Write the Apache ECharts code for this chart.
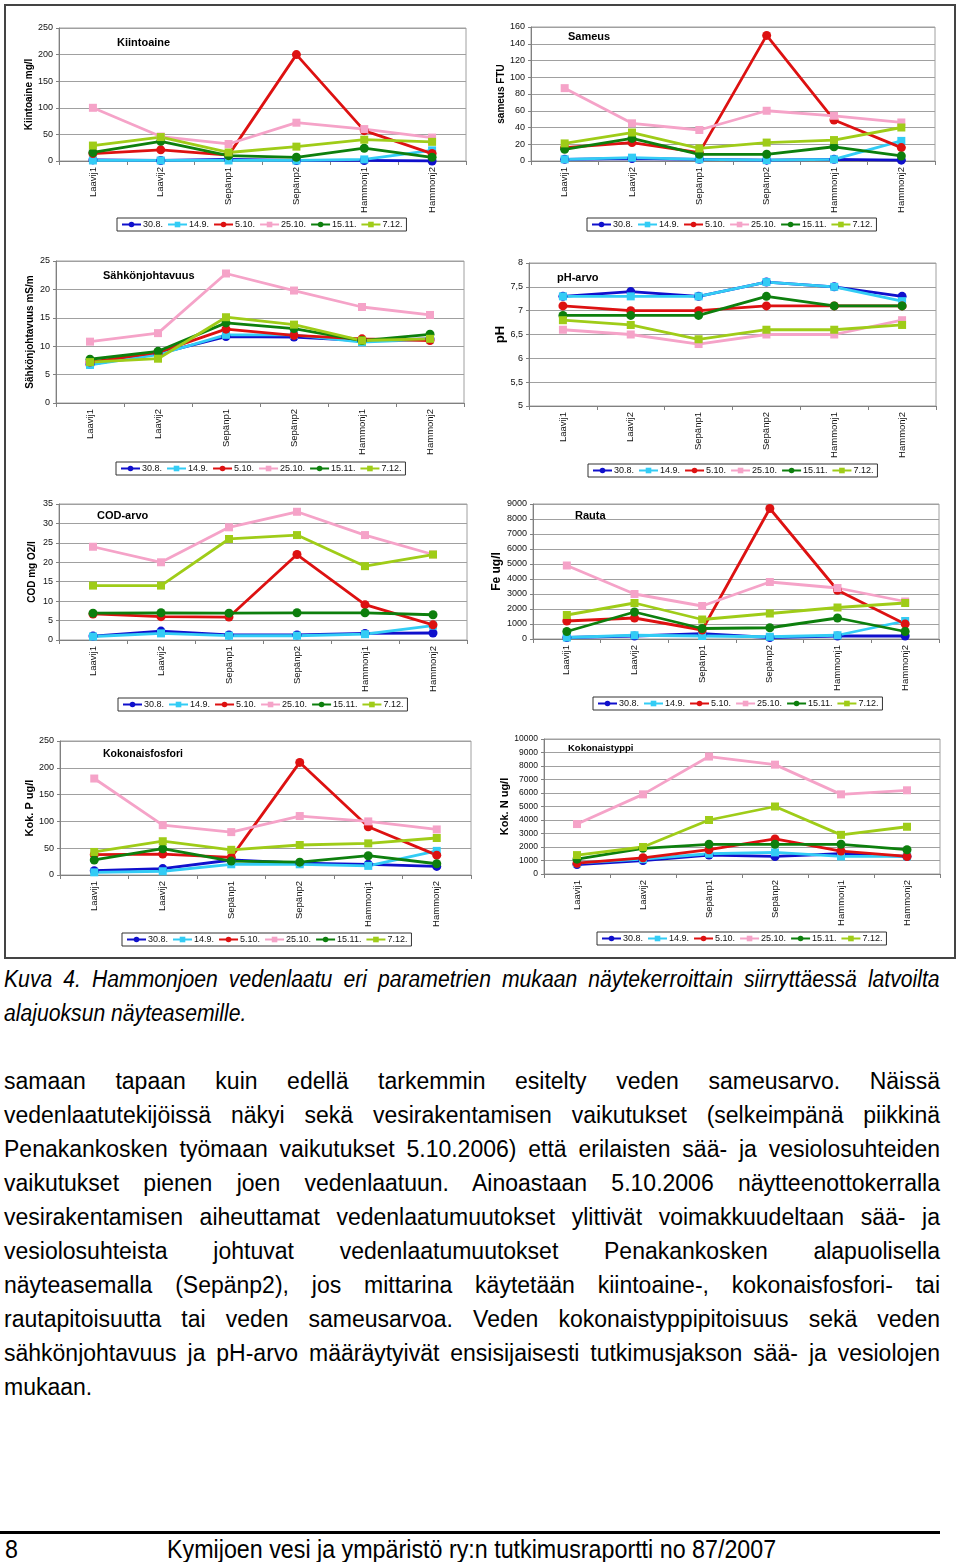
<!DOCTYPE html>
<html>
<head>
<meta charset="utf-8">
<script src="https://cdn.jsdelivr.net/npm/echarts@6/dist/echarts.min.js"></script>
<style>
  html, body { margin:0; padding:0; background:#fff; }
  body { width:960px; height:1562px; position:relative; overflow:hidden; font-family:"Liberation Sans", Arial, sans-serif; color:#000; }
  #frame { position:absolute; left:4px; top:4px; width:948px; height:951px; border:2px solid #444; }
  #fig { position:absolute; left:0; top:0; width:960px; height:962px; }
  .ln { position:absolute; left:4px; width:936px; height:34px; line-height:34px; font-size:23px; text-align:justify; text-align-last:justify; }
  .last { text-align-last:left; }
  .cap { font-style:italic; width:1017px; transform:scaleX(0.92); transform-origin:0 0; }
  #rule { position:absolute; left:0; top:1531px; width:940px; height:3px; background:#000; }
  .foot { position:absolute; top:1532px; height:34px; line-height:34px; font-size:26px; transform:scaleX(0.895); transform-origin:0 0; white-space:nowrap; }
</style>
</head>
<body>
<div id="frame"></div>
<div id="fig"></div>

<div class="ln cap" style="top:962px">Kuva 4. Hammonjoen vedenlaatu eri parametrien mukaan näytekerroittain siirryttäessä latvoilta</div>
<div class="ln cap last" style="top:996px">alajuoksun näyteasemille.</div>

<div class="ln" style="top:1064px">samaan tapaan kuin edellä tarkemmin esitelty veden sameusarvo. Näissä</div>
<div class="ln" style="top:1098px">vedenlaatutekijöissä näkyi sekä vesirakentamisen vaikutukset (selkeimpänä piikkinä</div>
<div class="ln" style="top:1132px">Penakankosken työmaan vaikutukset 5.10.2006) että erilaisten sää- ja vesiolosuhteiden</div>
<div class="ln" style="top:1166px">vaikutukset pienen joen vedenlaatuun. Ainoastaan 5.10.2006 näytteenottokerralla</div>
<div class="ln" style="top:1200px">vesirakentamisen aiheuttamat vedenlaatumuutokset ylittivät voimakkuudeltaan sää- ja</div>
<div class="ln" style="top:1234px">vesiolosuhteista johtuvat vedenlaatumuutokset Penakankosken alapuolisella</div>
<div class="ln" style="top:1268px">näyteasemalla (Sepänp2), jos mittarina käytetään kiintoaine-, kokonaisfosfori- tai</div>
<div class="ln" style="top:1302px">rautapitoisuutta tai veden sameusarvoa. Veden kokonaistyppipitoisuus sekä veden</div>
<div class="ln" style="top:1336px">sähkönjohtavuus ja pH-arvo määräytyivät ensisijaisesti tutkimusjakson sää- ja vesiolojen</div>
<div class="ln last" style="top:1370px">mukaan.</div>

<div id="rule"></div>
<div class="foot" style="left:5px">8</div>
<div class="foot" style="left:167px">Kymijoen vesi ja ympäristö ry:n tutkimusraportti no 87/2007</div>

<script>
// ---- data ----
const categories = ['Laavij1', 'Laavij2', 'Sepänp1', 'Sepänp2', 'Hammonj1', 'Hammonj2'];
const dates = ['30.8.', '14.9.', '5.10.', '25.10.', '15.11.', '7.12.'];

// rows follow the order of dates
const kiintoaine = [
  [2, 1, 3, 1, 1, 0],
  [1, 1, 1, 1, 3, 20],
  [14, 21, 11, 200, 57, 14],
  [100, 46, 32, 72, 60, 44],
  [16, 37, 10, 7, 24, 7],
  [29, 45, 16, 27, 40, 36]
];
const sameus = [
  [2, 3, 2, 1, 2, 1],
  [2, 4, 2, 1, 2, 24],
  [16, 22, 10, 150, 49, 16],
  [87, 45, 37, 60, 54, 46],
  [14, 27, 8, 8, 17, 6],
  [21, 34, 15, 22, 25, 40]
];
const sahkonjohtavuus = [
  [6.8, 8.7, 11.7, 11.6, 11.0, 11.3],
  [6.7, 8.5, 12.0, 12.0, 10.7, 11.2],
  [7.2, 8.9, 13.0, 11.9, 11.3, 11.0],
  [10.8, 12.3, 22.8, 19.8, 16.9, 15.5],
  [7.7, 9.1, 14.1, 13.1, 11.0, 12.1],
  [7.2, 7.8, 15.1, 13.8, 11.0, 11.3]
];
const ph = [
  [7.3, 7.4, 7.3, 7.6, 7.5, 7.3],
  [7.3, 7.3, 7.3, 7.6, 7.5, 7.2],
  [7.1, 7.0, 7.0, 7.1, 7.1, 7.1],
  [6.6, 6.5, 6.3, 6.5, 6.5, 6.8],
  [6.9, 6.9, 6.9, 7.3, 7.1, 7.1],
  [6.8, 6.7, 6.4, 6.6, 6.6, 6.7]
];
const cod = [
  [1.0, 2.3, 1.3, 1.3, 1.7, 1.8],
  [0.9, 1.7, 1.1, 1.1, 1.5, 3.7],
  [6.7, 6.0, 5.9, 22, 9.1, 3.9],
  [24, 20, 29, 33, 27, 22],
  [6.9, 7.0, 6.9, 7.0, 7.0, 6.5],
  [14, 14, 26, 27, 19, 22]
];
const rauta = [
  [100, 200, 350, 100, 200, 200],
  [100, 250, 200, 150, 250, 1200],
  [1200, 1400, 600, 8700, 3250, 1000],
  [4900, 3000, 2200, 3800, 3400, 2500],
  [500, 1800, 700, 750, 1400, 500],
  [1600, 2400, 1300, 1700, 2100, 2400]
];
const fosfori = [
  [8, 12, 28, 22, 20, 16],
  [5, 7, 20, 20, 17, 45],
  [38, 39, 33, 210, 90, 37],
  [180, 93, 80, 110, 100, 85],
  [28, 49, 26, 24, 36, 21],
  [43, 63, 47, 56, 59, 69]
];
const typpi = [
  [700, 1000, 1400, 1300, 1500, 1300],
  [800, 1100, 1500, 1600, 1300, 1300],
  [800, 1200, 1800, 2600, 1700, 1300],
  [3700, 5900, 8700, 8100, 5900, 6200],
  [1100, 1900, 2200, 2200, 2200, 1800],
  [1400, 2000, 4000, 5000, 2900, 3500]
];

const chartTitles = ['Kiintoaine', 'Sameus', 'Sähkönjohtavuus', 'pH-arvo', 'COD-arvo', 'Rauta', 'Kokonaisfosfori', 'Kokonaistyppi'];
const axisNames = ['Kiintoaine mg/l', 'sameus FTU', 'Sähkönjohtavuus mS/m', 'pH', 'COD mg O2/l', 'Fe ug/l', 'Kok. P ug/l', 'Kok. N ug/l'];
const axisMin = [0, 0, 0, 5, 0, 0, 0, 0];
const axisMax = [250, 160, 25, 8, 35, 9000, 250, 10000];
const axisStep = [50, 20, 5, 0.5, 5, 1000, 50, 1000];

// ---- layout / style ----
const datasets = [kiintoaine, sameus, sahkonjohtavuus, ph, cod, rauta, fosfori, typpi];
const colors = ['#1010cc', '#33ccf5', '#dd1111', '#f5a3c8', '#0d7f0d', '#9fcc18'];
const symbols = ['circle', 'rect', 'circle', 'rect', 'circle', 'rect'];
const layout = [
  { g: [59, 28, 407, 133], t: [117, 37, 11], n: [10, 24], l: [117, 218], f: 9 },
  { g: [531, 27, 404, 134], t: [568, 31, 11], n: [10, 24], l: [587, 218], f: 9 },
  { g: [56, 261, 408, 142], t: [103, 270, 11], n: [10, 21], l: [116, 462], f: 9 },
  { g: [529, 263, 407, 143], t: [557, 272, 11], n: [13, 20], l: [588, 464], f: 9 },
  { g: [59, 504, 408, 136], t: [97, 510, 11], n: [10, 22], l: [118, 698], f: 9 },
  { g: [533, 504, 406, 135], t: [575, 510, 11], n: [12, 26], l: [593, 697], f: 9 },
  { g: [60, 741, 411, 134], t: [103, 749, 10.5], n: [11, 24], l: [122, 933], f: 9 },
  { g: [544, 739, 396, 135], t: [568, 743, 9.5], n: [11, 33], l: [597, 932], f: 8.5 }
];
const FONT = '"Liberation Sans", Arial, sans-serif';

const grid = [], xAxis = [], yAxis = [], title = [], legend = [], series = [];
layout.forEach((L, i) => {
  grid.push({ left: L.g[0], top: L.g[1], width: L.g[2], height: L.g[3], show: true, borderColor: '#a0a0a0', borderWidth: 1, containLabel: false });
  title.push({ text: chartTitles[i], left: L.t[0], top: L.t[1], padding: 0,
    textStyle: { fontFamily: FONT, fontSize: L.t[2], fontWeight: 'bold', color: '#000' } });
  xAxis.push({ type: 'category', gridIndex: i, data: categories, boundaryGap: true,
    axisLine: { show: true, lineStyle: { color: '#808080', width: 1 } },
    axisTick: { show: true, length: 4, lineStyle: { color: '#808080' } },
    axisLabel: { rotate: 90, interval: 0, margin: 6, fontSize: 9.5, color: '#111', fontFamily: FONT },
    splitLine: { show: false } });
  yAxis.push({ type: 'value', gridIndex: i, min: axisMin[i], max: axisMax[i], interval: axisStep[i],
    name: axisNames[i], nameLocation: 'middle', nameGap: L.n[1],
    nameTextStyle: { fontFamily: FONT, fontSize: L.n[0], fontWeight: 'bold', color: '#000' },
    axisLine: { show: true, lineStyle: { color: '#808080', width: 1 } },
    axisTick: { show: true, length: 3, lineStyle: { color: '#808080' } },
    axisLabel: { margin: 6, fontSize: L.f, color: '#111', fontFamily: FONT,
      formatter: v => String(v).replace('.', ',') },
    splitLine: { show: true, lineStyle: { color: '#a0a0a0', width: 1 } } });
  legend.push({ data: dates, left: L.l[0], top: L.l[1], orient: 'horizontal',
    itemWidth: 19, itemHeight: 7, itemGap: 4, padding: [2, 4],
    borderColor: '#333', borderWidth: 1, backgroundColor: '#fff', borderRadius: 0,
    selectedMode: false,
    textStyle: { fontFamily: FONT, fontSize: 9, color: '#111', padding: [0, 0, 0, -3] } });
  const rows = datasets[i];
  dates.forEach((d, j) => {
    series.push({ type: 'line', name: d, xAxisIndex: i, yAxisIndex: i, data: rows[j],
      symbol: symbols[j], symbolSize: symbols[j] === 'circle' ? 9 : 8, showAllSymbol: true,
      animation: false, silent: true,
      lineStyle: { color: colors[j], width: 2.8 },
      itemStyle: { color: colors[j], borderWidth: 0 } });
  });
});

const chart = echarts.init(document.getElementById('fig'));
chart.setOption({ animation: false, textStyle: { fontFamily: FONT }, grid, xAxis, yAxis, title, legend, series });
</script>
</body>
</html>
